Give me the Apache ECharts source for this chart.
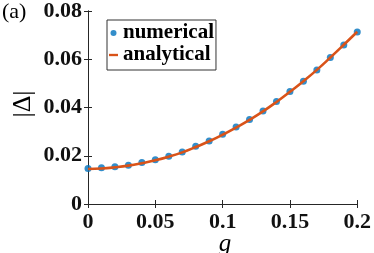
<!DOCTYPE html>
<html>
<head>
<meta charset="utf-8">
<script src="https://cdn.jsdelivr.net/npm/echarts@6/dist/echarts.min.js"></script>
<style>html,body{margin:0;padding:0;background:#fff}#c{width:374px;height:253px}</style>
</head>
<body>
<div id="c"></div>
<script>
var gValues = [0,0.01,0.02,0.03,0.04,0.05,0.06,0.07,0.08,0.09,0.1,0.11,0.12,0.13,0.14,0.15,0.16,0.17,0.18,0.19,0.2];
var numerical = [0.0147,0.0150,0.0154,0.0161,0.0172,0.0183,0.0198,0.0216,0.0239,0.0261,0.0289,0.0319,0.0350,0.0385,0.0425,0.0466,0.0509,0.0555,0.0607,0.0659,0.0713];
var analytical = [0.0145,0.0147,0.0152,0.0159,0.0169,0.0181,0.0196,0.0214,0.0236,0.0260,0.0287,0.0317,0.0349,0.0384,0.0423,0.0465,0.0509,0.0556,0.0607,0.0660,0.0714];
var seriesNames = ['numerical','analytical'];
var panelLabel = '(a)';
var xTitle = 'g';
var yTitle = '|\u0394|';

var chart = echarts.init(document.getElementById('c'), null, {renderer:'canvas'});
var axisColor = '#262626';
var font = '"Liberation Serif","Times New Roman",serif';
function pairs(xs, ys){ return xs.map(function(x,i){return [x, ys[i]];}); }
function baseAxis(extra){
  var a = {
    type:'value',
    axisLine:{show:true, lineStyle:{color:axisColor, width:1}},
    axisTick:{show:true, inside:true, length:4, lineStyle:{color:axisColor}},
    splitLine:{show:false},
    axisLabel:{show:false}
  };
  for (var k in extra) a[k] = extra[k];
  return a;
}
var labelStyle = {show:true, color:'#111', fontFamily:font, fontWeight:'bold', fontSize:22};
chart.setOption({
  animation:false,
  backgroundColor:'#fff',
  grid:{left:88, right:14, top:10, bottom:49, containLabel:false},
  xAxis:[
    baseAxis({position:'bottom', min:0, max:0.2, interval:0.05, axisLabel:Object.assign({margin:7}, labelStyle)}),
    baseAxis({position:'top', min:0, max:0.2, interval:0.05})
  ],
  yAxis:[
    baseAxis({position:'left', min:0, max:0.08, interval:0.02, axisLabel:Object.assign({margin:6}, labelStyle)}),
    baseAxis({position:'right', min:0, max:0.08, interval:0.02})
  ],
  legend:{
    orient:'vertical', left:107, top:20,
    itemWidth:9, itemHeight:6, itemGap:0,
    padding:[2,2,4,2],
    borderColor:'#333', borderWidth:1, backgroundColor:'#fff',
    textStyle:{fontFamily:font, fontWeight:'bold', fontSize:21, color:'#000', lineHeight:22},
    data:[
      {name:seriesNames[0], icon:'circle'},
      {name:seriesNames[1], icon:'path://M0,0H10V2.6H0Z'}
    ]
  },
  series:[
    {name:seriesNames[0], type:'scatter', data:pairs(gValues, numerical), symbol:'circle', symbolSize:7,
     itemStyle:{color:'#0072BD'}, z:2},
    {name:seriesNames[1], type:'line', data:pairs(gValues, analytical), smooth:true, showSymbol:false, symbol:'none',
     lineStyle:{color:'#D95319', width:2.6}, itemStyle:{color:'#D95319'}, z:3}
  ],
  graphic:[
    {type:'text', left:2, top:1, style:{text:panelLabel, font:'22px ' + font, fill:'#000'}},
    {type:'text', x:23, y:104, rotation:Math.PI/2, style:{text:yTitle, font:'26px ' + font, fill:'#000', align:'center', verticalAlign:'middle'}},
    {type:'text', x:225, y:244, style:{text:xTitle, font:'italic 25px ' + font, fill:'#000', align:'center', verticalAlign:'middle'}}
  ]
});
</script>
</body>
</html>
